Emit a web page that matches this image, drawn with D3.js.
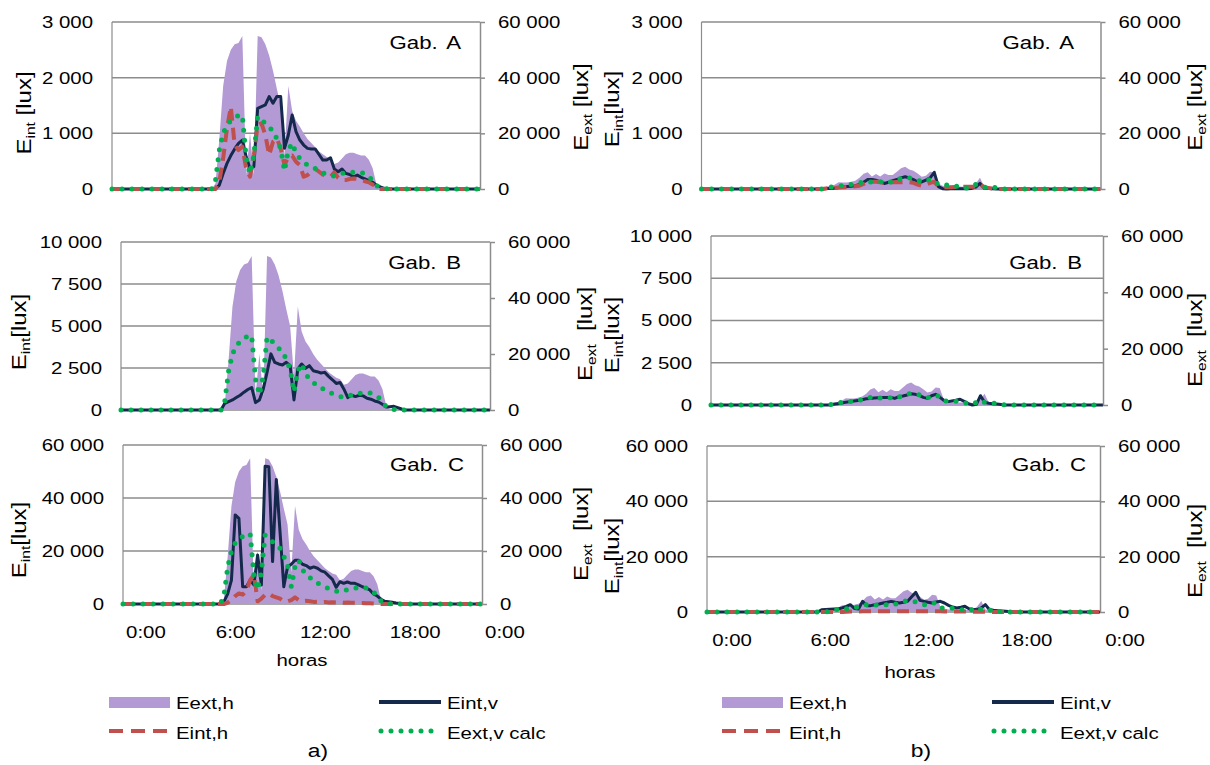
<!DOCTYPE html>
<html>
<head>
<meta charset="utf-8">
<script src="https://cdn.jsdelivr.net/npm/d3@7"></script>
<style>
  body { margin: 0; background: #fff; }
  svg { display: block; font-family: "Liberation Sans", Arial, sans-serif; }
  text { white-space: pre; }
</style>
</head>
<body>
<div id="chart"></div>
<script>
// time of day in hours (quarter-hour readings during the day, flat zero at the ends)
const hours = [-1.5,
  5, 5.25, 5.5, 5.75, 6, 6.25, 6.5, 6.75, 7, 7.25, 7.5, 7.75,
  8, 8.25, 8.5, 8.75, 9, 9.25, 9.5, 9.75, 10, 10.25, 10.5, 10.75,
  11, 11.25, 11.5, 11.75, 12, 12.25, 12.5, 12.75, 13, 13.25, 13.5, 13.75,
  14, 14.25, 14.5, 14.75, 15, 15.25, 15.5, 15.75, 16, 16.25, 16.5, 16.75,
  17, 17.25, 17.5,
  22.5]

// ---- a) sunny day ----
const extHorizA = [0,
  0, 2000, 18000, 37000, 46000, 50000, 52000, 52500, 55000, 5000, 20000, 5000,
  55000, 54500, 52000, 48000, 42500, 36000, 30000, 12000, 37000, 28000, 24500, 22500,
  20000, 18000, 16500, 15000, 13500, 12500, 11500, 11000, 9000, 9500, 11000, 12500,
  13000, 13000, 12500, 12000, 12000, 10500, 7500, 1500, 300, 0, 0, 0,
  0, 0, 0,
  0]
const extVertA = [0,
  0, 3000, 14000, 20000, 23000, 24500, 25500, 26500, 26500, 11000, 5500, 12000,
  26000, 25000, 23500, 22000, 21000, 18000, 14500, 6500, 14000, 16500, 13000, 11000,
  10000, 8500, 7800, 7400, 6500, 5800, 5200, 4800, 4600, 4800, 5500, 6000,
  6000, 6000, 6200, 6000, 5400, 4500, 3000, 1200, 600, 200, 0, 0,
  0, 0, 0,
  0]
const intVertA = [0,
  0, 0, 70, 280, 460, 600, 720, 820, 880, 580, 370, 400,
  1450, 1480, 1510, 1660, 1540, 1660, 1660, 730, 970, 1330, 1030, 880,
  790, 730, 720, 720, 620, 520, 520, 560, 360, 310, 360, 280,
  260, 220, 250, 210, 180, 150, 120, 70, 40, 12, 0, 0,
  0, 0, 0,
  0]
const intHorizA = [0,
  0, 0, 130, 550, 1090, 1480, 790, 700, 760, 370, 220, 610,
  1150, 1180, 970, 610, 850, 910, 730, 430, 580, 600, 490, 430,
  220, 250, 310, 360, 310, 260, 240, 220, 300, 200, 160, 160,
  180, 190, 180, 160, 140, 120, 80, 50, 0, 0, 0, 0,
  0, 0, 0,
  0]
const intVertB = [0,
  0, 400, 500, 600, 740, 880, 1060, 1220, 1340, 440, 600, 1240,
  2240, 3340, 2840, 2740, 2680, 2840, 2640, 600, 2440, 2740, 2480, 2640,
  2340, 2280, 2200, 2240, 2000, 1800, 1580, 1640, 1240, 740, 880, 800,
  880, 840, 700, 640, 540, 480, 340, 180, 200, 220, 140, 60,
  0, 0, 0,
  0]
const intVertC = [0,
  0, 880, 3800, 9000, 33600, 32300, 6500, 6500, 9000, 7200, 18500, 7200,
  52000, 51800, 16000, 47000, 27000, 6500, 14000, 15000, 16500, 16500, 15000, 14500,
  13500, 14000, 13500, 12500, 12000, 10600, 9300, 6300, 8400, 7800, 8300, 7800,
  7800, 7200, 6500, 6000, 5300, 3800, 3000, 1800, 1000, 880, 630, 380,
  250, 0, 0,
  0]
const intHorizC = [0,
  0, 0, 500, 1500, 3000, 4000, 3500, 5000, 9000, 11000, 1000, 2000,
  3500, 4000, 3000, 2500, 2000, 1000, 1000, 1500, 2500, 1500, 1000, 1200,
  1000, 800, 900, 700, 800, 600, 700, 600, 700, 500, 600, 500,
  500, 400, 400, 300, 300, 200, 100, 0, 0, 0, 0, 0,
  0, 0, 0,
  0]

// ---- b) overcast day ----
const extHorizB = [0,
  0, 0, 0, 300, 800, 1100, 1500, 2400, 2300, 2300, 2600, 3000,
  4000, 5500, 6000, 4500, 5400, 4500, 5600, 5000, 5000, 6200, 7500, 8000,
  7000, 6600, 5600, 4400, 4800, 6200, 6000, 2000, 1200, 900, 900, 900,
  900, 800, 700, 900, 2000, 4000, 900, 600, 400, 200, 0, 0,
  0, 0, 0,
  0]
const extVertB = [0,
  0, 0, 0, 0, 400, 600, 1000, 1100, 1200, 1300, 1600, 1900,
  2200, 2700, 2600, 2500, 2500, 2600, 2600, 2300, 2800, 3300, 3800, 4200,
  4000, 3600, 3200, 2600, 2900, 3500, 3000, 1500, 1400, 1400, 1300, 1100,
  900, 500, 300, 900, 1700, 900, 600, 600, 650, 400, 0, 0,
  0, 0, 0,
  0]
const intVertRA = [0,
  0, 0, 0, 0, 10, 10, 12, 25, 42, 45, 48, 60,
  84, 120, 170, 170, 156, 130, 100, 120, 150, 170, 200, 220,
  200, 170, 126, 126, 160, 200, 300, 42, 6, 0, 6, 6,
  6, 6, 6, 10, 36, 100, 12, 8, 6, 0, 0, 0,
  0, 0, 0,
  0]
const intHorizRA = [0,
  0, 0, 0, 0, 10, 15, 20, 25, 30, 35, 40, 50,
  60, 90, 120, 130, 130, 120, 110, 115, 120, 125, 120, 120,
  120, 110, 80, 60, 80, 110, 130, 50, 30, 30, 30, 35,
  40, 40, 40, 40, 40, 90, 30, 20, 10, 0, 0, 0,
  0, 0, 0,
  0]
const intVertRB = [0,
  0, 0, 0, 0, 40, 80, 120, 160, 200, 230, 260, 310,
  370, 390, 410, 430, 450, 450, 450, 390, 490, 530, 590, 670,
  630, 570, 450, 390, 550, 630, 470, 280, 200, 240, 280, 340,
  220, 80, 0, 40, 550, 160, 100, 80, 60, 30, 0, 0,
  0, 0, 0,
  0]
const intVertRC = [0,
  0, 0, 800, 900, 1000, 1050, 1100, 1500, 2000, 2650, 1300, 1100,
  3850, 2300, 2300, 2650, 2900, 3250, 3500, 3850, 3500, 3250, 3500, 3850,
  5500, 7100, 4200, 3850, 3500, 3250, 3600, 3850, 3250, 2400, 1800, 1450,
  1700, 2050, 1200, 1000, 840, 1500, 2650, 840, 600, 480, 350, 240,
  100, 0, 0,
  0]
const intHorizRC = [0,
  0, 0, 0, 0, 0, 0, 0, 0, 100, 150, 150, 200,
  250, 300, 300, 300, 300, 300, 300, 300, 300, 300, 300, 300,
  300, 300, 300, 300, 300, 300, 300, 250, 200, 200, 200, 200,
  150, 150, 100, 100, 100, 100, 50, 0, 0, 0, 0, 0,
  0, 0, 0,
  0]

const ticksA = [0, 1000, 2000, 3000]
const ticksB = [0, 2500, 5000, 7500, 10000]
const ticksC = [0, 20000, 40000, 60000]
const ticksExt = [0, 20000, 40000, 60000]
const timeTicks = [0, 6, 12, 18, 24]
const legendNames = ["Eext,h", "Eint,v", "Eint,h", "Eext,v calc"]

const W = 1210, H = 765
const SX = 1.2          // text in the picture is drawn a little wide
const C_EXT = "#b39ad4", C_INTV = "#14294b", C_INTH = "#c0504d", C_EXTV = "#00b050", C_GRID = "#8c8c8c"

const fmt = d3.formatLocale({ decimal: ",", thousands: " ", grouping: [3], currency: ["", ""] }).format(",")

const svg = d3.select("#chart").append("svg")
    .attr("width", W)
    .attr("height", H)

function stretch(sel) {
  sel.each(function () {
    const t = d3.select(this)
    t.attr("x", (+t.attr("x") || 0) / SX).attr("transform", `scale(${SX},1)`)
  })
}

function label(x, y, txt, size, anchor) {
  return svg.append("text")
    .attr("transform", `translate(${x},${y}) scale(${SX},1)`)
    .attr("text-anchor", anchor || "start")
    .attr("font-size", size)
    .text(txt)
}

function yTitle(bx, cy, sub, rest) {
  const t = svg.append("text")
    .attr("transform", `translate(${bx},${cy}) rotate(-90) scale(${SX},1)`)
    .attr("text-anchor", "middle")
    .attr("font-size", 20)
  t.append("tspan").text("E")
  t.append("tspan").attr("font-size", 13).attr("dy", 4).text(sub)
  t.append("tspan").attr("dy", -4).text(rest)
}

const panels = [
  { box: [112, 480, 22, 189], ticks: ticksA, intV: intVertA, intH: intHorizA, extH: extHorizA, extV: extVertA,
    name: "Gab. A", nameX: 461, nameY: 49, lt: [31, 113, " [lux]"], rt: [588, 107, " [lux]"] },
  { box: [121, 490, 242, 410], ticks: ticksB, intV: intVertB, intH: null, extH: extHorizA, extV: extVertA,
    name: "Gab. B", nameX: 461, nameY: 269, lt: [26, 332, "[lux]"], rt: [592, 334, "  [lux]"] },
  { box: [123, 482, 445, 604], ticks: ticksC, intV: intVertC, intH: intHorizC, extH: extHorizA, extV: extVertA,
    name: "Gab. C", nameX: 464, nameY: 471, lt: [26, 540, "[lux]"], rt: [588, 534, "  [lux]"], hours: [302, 666] },
  { box: [701.5, 1100.5, 22, 189], ticks: ticksA, intV: intVertRA, intH: intHorizRA, extH: extHorizB, extV: extVertB,
    name: "Gab. A", nameX: 1074, nameY: 49, lt: [619, 109, "[lux]"], rt: [1202, 107, " [lux]"] },
  { box: [711, 1103, 236, 405], ticks: ticksB, intV: intVertRB, intH: null, extH: extHorizB, extV: extVertB,
    name: "Gab. B", nameX: 1082, nameY: 269, lt: [619, 335, "[lux]"], rt: [1202, 340, "  [lux]"] },
  { box: [707, 1100, 446, 612], ticks: ticksC, intV: intVertRC, intH: intHorizRC, extH: extHorizB, extV: extVertB,
    name: "Gab. C", nameX: 1086, nameY: 471, lt: [619, 556, "[lux]"], rt: [1202, 551, "  [lux]"], hours: [910, 678] }
]

panels.forEach(p => {
  const [x0, x1, y0, y1] = p.box
  const x = d3.scaleLinear().domain([-1.5, 22.5]).range([x0, x1])
  const yL = d3.scaleLinear().domain([0, d3.max(p.ticks)]).range([y1, y0])
  const yR = d3.scaleLinear().domain([0, 60000]).range([y1, y0])
  const g = svg.append("g")

  // gridlines + left border
  g.selectAll(".grid").data(p.ticks).enter().append("line")
    .attr("x1", x0).attr("x2", x1)
    .attr("y1", d => yL(d)).attr("y2", d => yL(d))
    .attr("stroke", C_GRID).attr("stroke-width", 1.5)
  g.append("line").attr("x1", x0).attr("x2", x0).attr("y1", y0).attr("y2", y1)
    .attr("stroke", C_GRID).attr("stroke-width", 1.2)

  // exterior horizontal illuminance (area, secondary axis)
  g.append("path")
    .attr("d", d3.area().x((d, i) => x(hours[i])).y0(yR(0)).y1(d => yR(d))(p.extH))
    .attr("fill", C_EXT)

  const lineL = d3.line().x((d, i) => x(hours[i])).y(d => yL(d))
  const lineR = d3.line().x((d, i) => x(hours[i])).y(d => yR(d))

  g.append("path").attr("d", lineL(p.intV))
    .attr("fill", "none").attr("stroke", C_INTV).attr("stroke-width", 3).attr("stroke-linejoin", "round")
  if (p.intH) {
    g.append("path").attr("d", lineL(p.intH))
      .attr("fill", "none").attr("stroke", C_INTH).attr("stroke-width", 4)
      .attr("stroke-dasharray", "12,7").attr("stroke-linejoin", "round")
  }
  g.append("path").attr("d", lineR(p.extV))
    .attr("fill", "none").attr("stroke", C_EXTV).attr("stroke-width", 5)
    .attr("stroke-dasharray", "0,10").attr("stroke-linecap", "round")

  // axes
  const left = g.append("g").attr("transform", `translate(${x0},0)`)
    .call(d3.axisLeft(yL).tickValues(p.ticks).tickFormat(fmt).tickSize(0).tickPadding(19))
  left.select(".domain").remove()
  left.selectAll("text").attr("font-size", 17).attr("font-family", null).attr("fill", "#000").call(stretch)

  const right = g.append("g").attr("transform", `translate(${x1},0)`)
    .call(d3.axisRight(yR).tickValues(ticksExt).tickFormat(fmt).tickSize(5).tickSizeOuter(0).tickPadding(13))
  right.select(".domain").attr("stroke", C_GRID).attr("stroke-width", 1.5)
  right.selectAll(".tick line").attr("stroke", C_GRID).attr("stroke-width", 1.5)
  right.selectAll("text").attr("font-size", 17).attr("font-family", null).attr("fill", "#000").call(stretch)

  if (p.hours) {
    const bottom = g.append("g").attr("transform", `translate(0,${y1})`)
      .call(d3.axisBottom(x).tickValues(timeTicks).tickFormat(d => (d % 24) + ":00").tickSize(0).tickPadding(22))
    bottom.select(".domain").remove()
    bottom.selectAll("text").attr("font-size", 17).attr("font-family", null).attr("fill", "#000").call(stretch)
    label(p.hours[0], p.hours[1], "horas", 17, "middle")
  }

  label(p.nameX, p.nameY, p.name, 18.5, "end").attr("word-spacing", 3)
  yTitle(p.lt[0], p.lt[1], "int", p.lt[2])
  yTitle(p.rt[0], p.rt[1], "ext", p.rt[2])
})

// legends
function legend(dx, tag, tagX) {
  svg.append("rect").attr("x", 109 + dx).attr("y", 697).attr("width", 61).attr("height", 11).attr("fill", C_EXT)
  label(176 + dx, 709, legendNames[0], 17)
  svg.append("line").attr("x1", 379 + dx).attr("x2", 441 + dx).attr("y1", 702).attr("y2", 702)
    .attr("stroke", C_INTV).attr("stroke-width", 4)
  label(447 + dx, 709, legendNames[1], 17)
  svg.append("line").attr("x1", 109 + dx).attr("x2", 170 + dx).attr("y1", 731).attr("y2", 731)
    .attr("stroke", C_INTH).attr("stroke-width", 4).attr("stroke-dasharray", "14,8")
  label(176 + dx, 739, legendNames[2], 17)
  svg.append("line").attr("x1", 381 + dx).attr("x2", 437 + dx).attr("y1", 731).attr("y2", 731)
    .attr("stroke", C_EXTV).attr("stroke-width", 5).attr("stroke-dasharray", "0,10").attr("stroke-linecap", "round")
  label(447 + dx, 739, legendNames[3], 17)
  label(tagX, 757, tag, 19, "middle")
}
legend(0, "a)", 318)
legend(613, "b)", 921)
</script>
</body>
</html>
